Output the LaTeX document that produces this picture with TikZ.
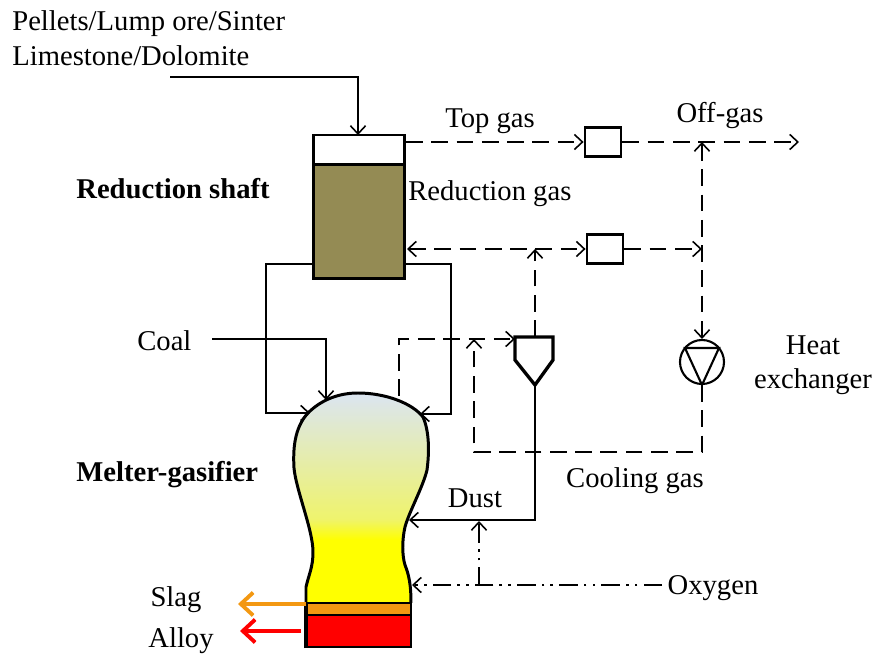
\documentclass[tikz,border=0pt]{standalone}
\usepackage{fontspec}
\setmainfont{Liberation Serif}
\usepackage{xcolor}
\usetikzlibrary{arrows.meta,positioning}
\definecolor{shaftolive}{RGB}{148,139,84}
\definecolor{slagorange}{RGB}{243,152,18}
\definecolor{domegray}{RGB}{219,229,241}
\pgfdeclareverticalshading{gasifiershade}{100bp}{color(0bp)=(yellow); color(40bp)=(yellow); color(45bp)=(yellow!55!domegray); color(75bp)=(domegray); color(100bp)=(domegray)}
\begin{document}
\begin{tikzpicture}[
        x=0.02cm, y=-0.02cm,
        >={Straight Barb[length=4.6pt,width=8.6pt,line width=0.9pt]},
        label/.style={inner sep=0pt, font=\fontsize{16.3}{19}\selectfont},
        boldlabel/.style={label, font=\fontsize{16.3}{19}\selectfont\bfseries},
        filter/.style={rectangle, draw, line width=1.6pt, fill=white, minimum width=0.72cm, minimum height=0.58cm, inner sep=0pt},
        shaft/.style={rectangle, draw, line width=1.7pt, minimum width=1.82cm, inner sep=0pt},
        solidline/.style={line width=1.1pt},
        solidarrow/.style={solidline,->},
        gasline/.style={line width=1.2pt, dash pattern=on 9.5pt off 4.9pt},
        gasarrow/.style={gasline,->},
        oxyline/.style={line width=1.2pt, dash pattern=on 10.5pt off 3.5pt on 1.5pt off 3.5pt on 1.5pt off 3.5pt},
        oxyarrow/.style={oxyline,->},
        outlet/.style={line width=2.4pt,-{Straight Barb[length=7pt,width=13pt,line width=2.2pt]}}
    ]
        \useasboundingbox (0,0) rectangle (877,655);

        % Reduction shaft
        \node[shaft, fill=white, minimum height=0.58cm] (top) at (359,149.5) {};
        \node[shaft, fill=shaftolive, minimum height=2.3cm] (shaftbody) at (359,221.5) {};

        % Melter-gasifier
        \path[shading=gasifiershade] (306,603) -- (306,587) .. controls (309,574) and (313,567) .. (313,552)
            .. controls (313,530) and (296,490) .. (294,468) .. controls (293,450) and (294,428) .. (308,413)
            .. controls (322,399) and (340,393) .. (358,393) .. controls (385,393) and (412,403) .. (423,417)
            .. controls (430,433) and (429,455) .. (427,470) .. controls (423,487) and (409,512) .. (405,527)
            .. controls (402,540) and (402,555) .. (405,565) .. controls (409,575) and (411,585) .. (411,603) -- cycle;
        \draw[line width=1.7pt] (306,603) -- (306,587) .. controls (309,574) and (313,567) .. (313,552)
            .. controls (313,530) and (296,490) .. (294,468) .. controls (293,450) and (294,428) .. (308,413)
            .. controls (322,399) and (340,393) .. (358,393) .. controls (385,393) and (412,403) .. (423,417)
            .. controls (430,433) and (429,455) .. (427,470) .. controls (423,487) and (409,512) .. (405,527)
            .. controls (402,540) and (402,555) .. (405,565) .. controls (409,575) and (411,585) .. (411,603);
        \node[rectangle, draw, line width=1.4pt, fill=slagorange, minimum width=2.08cm, minimum height=0.24cm, inner sep=0pt] (slagband) at (359,609) {};
        \node[rectangle, draw, line width=1.4pt, fill=red, minimum width=2.08cm, minimum height=0.64cm, inner sep=0pt] (alloyband) at (359,631) {};
        \draw[line width=2.2pt] (alloyband.south west) -- (slagband.north west);

        % Filters
        \node[filter] (topfilter) at (603,142) {};
        \node[filter] (gasfilter) at (605,249) {};

        % Cyclone
        \coordinate (cyclonetop) at (535,337);
        \coordinate (cyclonetip) at (535,385);
        \coordinate (cycloneleft) at (515,339);
        \draw[line width=1.9pt, fill=white] (515,337) -- (553,337) -- (553,360) -- (cyclonetip) -- (515,360) -- cycle;

        % Pump
        \node[circle, draw, line width=1.2pt, minimum size=0.88cm, inner sep=0pt] (pump) at (702,362) {};
        \draw[line width=1.2pt] (685,348) -- (719,348) -- (702,385) -- cycle;

        % Junctions
        \coordinate (feedstart) at (170,77);
        \coordinate (feedbend) at (358,77);
        \coordinate (feedend) at (358,135);
        \coordinate (leftout) at (313,264);
        \coordinate (leftdown) at (266,264);
        \coordinate (leftin) at (266,413);
        \coordinate (leftend) at (310,413);
        \coordinate (rightout) at (405,264);
        \coordinate (rightdown) at (451,264);
        \coordinate (rightin) at (451,414);
        \coordinate (rightend) at (420,414);
        \coordinate (coalstart) at (212,339);
        \coordinate (coalbend) at (326,339);
        \coordinate (coalend) at (326,400);
        \coordinate (domeout) at (399,396);
        \coordinate (domeup) at (399,339);
        \coordinate (offend) at (799,142);
        \coordinate (offjoin) at (702,142);
        \coordinate (midjoin) at (702,249);
        \coordinate (shaftgas) at (407,249);
        \coordinate (cyclonejoin) at (535,249);
        \coordinate (coolright) at (702,452);
        \coordinate (coolleft) at (474,452);
        \coordinate (coolend) at (474,339);
        \coordinate (dustbend) at (535,520);
        \coordinate (dustend) at (409,520);
        \coordinate (oxystart) at (662,585);
        \coordinate (oxyend) at (412,585);
        \coordinate (oxybranch) at (479,585);
        \coordinate (oxyjoin) at (479,521);
        \coordinate (slagstart) at (306,604);
        \coordinate (slagend) at (238,604);
        \coordinate (alloystart) at (301,631);
        \coordinate (alloyend) at (240,631);

        % Solid connections
        \draw[solidarrow] (feedstart) -- (feedbend) -- (feedend);
        \draw[solidarrow] (leftout) -- (leftdown) -- (leftin) -- (leftend);
        \draw[solidarrow] (rightout) -- (rightdown) -- (rightin) -- (rightend);
        \draw[solidarrow] (coalstart) -- (coalbend) -- (coalend);
        \draw[solidarrow] (cyclonetip) -- (dustbend) -- (dustend);

        % Gas connections
        \draw[gasarrow] (top.east |- topfilter) -- (topfilter);
        \draw[gasarrow] (topfilter) -- (offend);
        \draw[gasline,<->] (shaftgas) -- (gasfilter);
        \draw[gasarrow] (gasfilter) -- (midjoin);
        \draw[gasline,<->] (offjoin) -- (pump);
        \draw[gasarrow] (cyclonetop) -- (cyclonejoin);
        \draw[gasarrow] (domeout) -- (domeup) -- (cycloneleft);
        \draw[gasarrow] (pump) -- (coolright) -- (coolleft) -- (coolend);

        % Oxygen
        \draw[oxyarrow] (oxystart) -- (oxyend);
        \draw[oxyarrow] (oxybranch) -- (oxyjoin);

        % Outlets
        \draw[outlet, draw=slagorange] (slagstart) -- (slagend);
        \draw[outlet, draw=red] (alloystart) -- (alloyend);

        % Labels
        \node[label, anchor=base west] (feed1) at (12,31) {Pellets/Lump ore/Sinter};
        \node[label, anchor=base west] (feed2) at (12,66) {Limestone/Dolomite};
        \node[label, anchor=base] (topgas) at (490,128) {Top gas};
        \node[label, anchor=base] (offgas) at (720,123) {Off-gas};
        \node[label, anchor=base west] (redgas) at (408,201) {Reduction gas};
        \node[boldlabel, anchor=base west] (redshaft) at (76,199) {Reduction shaft};
        \node[label, anchor=base west] (coal) at (137,351) {Coal};
        \node[label, anchor=base] (heat1) at (813,355) {Heat};
        \node[label, anchor=base] (heat2) at (813,389) {exchanger};
        \node[boldlabel, anchor=base west] (melter) at (76,482) {Melter-gasifier};
        \node[label, anchor=base] (dust) at (475,508) {Dust};
        \node[label, anchor=base] (cooling) at (635,488) {Cooling gas};
        \node[label, anchor=base] (slag) at (176,607) {Slag};
        \node[label, anchor=base] (alloy) at (181,648) {Alloy};
        \node[label, anchor=base] (oxygen) at (713,595) {Oxygen};
    \end{tikzpicture}
\end{document}
